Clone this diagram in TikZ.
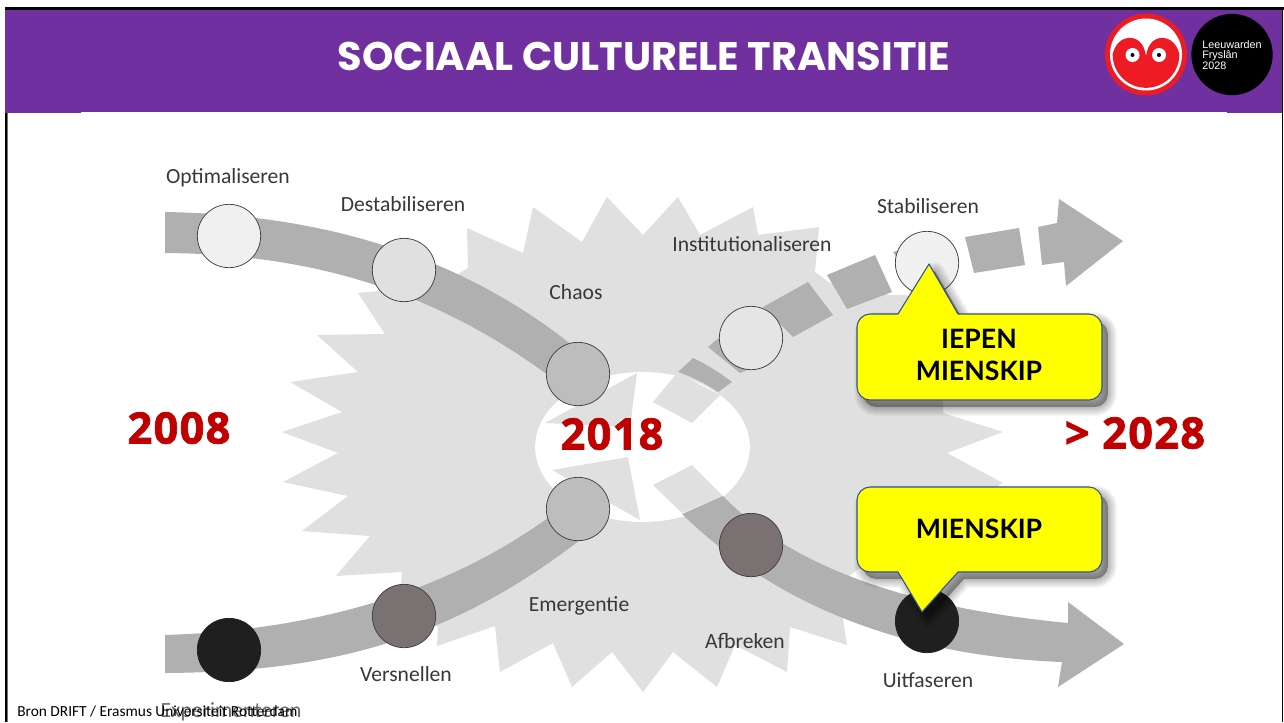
\documentclass[tikz,border=0pt]{standalone}
\usepackage{fontspec}
\setmainfont{Carlito}
\newfontfamily\titlefont{Poppins}
\newfontfamily\callfont{Lato}
\newfontfamily\yearfont[BoldFeatures={FakeBold=1.6,LetterSpace=3}]{Open Sans}
\newfontfamily\logofont{Liberation Sans}
\usetikzlibrary{calc,shapes.geometric}
\definecolor{hdr}{HTML}{7030A0}
\definecolor{burst}{HTML}{E0E0E0}
\definecolor{bandc}{HTML}{B0B0B0}
\definecolor{yearred}{HTML}{C00000}
\definecolor{logored}{HTML}{ED1C24}
\definecolor{callb}{HTML}{2F528F}
\definecolor{callfill}{HTML}{FFFF00}
\definecolor{midst}{HTML}{7A7272}
\tikzset{
  x=0.75pt,y=-0.75pt,
  stage/.style={circle,draw=black!75,line width=0.55pt,minimum size=47.5pt,inner sep=0pt},
  phase/.style={text=black!78,font=\fontsize{16.2pt}{18pt}\selectfont,inner sep=0pt},
  yearlab/.style={text=yearred,font=\fontsize{32.5pt}{36pt}\yearfont\bfseries,inner sep=0pt},
  calltext/.style={text=black,font=\fontsize{20pt}{24pt}\callfont\bfseries,inner sep=0pt,align=center},
  band/.style={fill=bandc},
  pale/.style={fill=burst},
  callshape/.style={fill=callfill,draw=callb,line width=0.8pt,line join=round},
}
\newcommand{\calloutup}{(870,314) -- (898,314) -- (929,264) -- (958,314) -- (1089,314) .. controls (1096,314) and (1102,320) .. (1102,327) -- (1102,387) .. controls (1102,394) and (1096,400) .. (1089,400) -- (870,400) .. controls (863,400) and (857,394) .. (857,387) -- (857,327) .. controls (857,320) and (863,314) .. (870,314) -- cycle}
\newcommand{\calloutdown}{(870,487) -- (1089,487) .. controls (1096,487) and (1102,493) .. (1102,500) -- (1102,559) .. controls (1102,566) and (1096,572) .. (1089,572) -- (958,572) -- (922,612) -- (898,572) -- (870,572) .. controls (863,572) and (857,566) .. (857,559) -- (857,500) .. controls (857,493) and (863,487) .. (870,487) -- cycle}
\begin{document}
\begin{tikzpicture}
\useasboundingbox (0,0) rectangle (1284,722);
\fill[white] (0,0) rectangle (1284,722);
% frame
\fill[black!55] (7,9) rectangle (8,722);
\fill[black] (4.5,7) rectangle (7,722);
\fill[black] (4.5,7) rectangle (1284,9.5);
\fill[black] (1281.8,7) rectangle (1283,722);
% header
\fill[hdr] (4.5,9.5) rectangle (1282,112);
\fill[hdr] (4.5,112) rectangle (81,113);
\fill[hdr] (1227,112) rectangle (1282,113);
\node (title) at (644,56) [text=white,font=\fontsize{29.9pt}{32pt}\titlefont\bfseries,inner sep=0pt] {SOCIAAL CULTURELE TRANSITIE};
% logos
\node (owlring) at (1146,54.5) [circle,fill=logored,minimum size=61.5pt,inner sep=0pt] {};
\node (owlface) at (1146,54.5) [circle,fill=white,minimum size=54pt,inner sep=0pt] {};
\begin{scope}
\clip (1146,54.5) circle[radius=25pt];
\fill[logored] (1146,56) .. controls (1144,42) and (1136,37) .. (1128,38) .. controls (1118,39) and (1112,50) .. (1112,60) -- (1112,95) -- (1180,95) -- (1180,60) .. controls (1180,50) and (1174,39) .. (1164,38) .. controls (1156,37) and (1148,42) .. (1146,56) -- cycle;
\end{scope}
\node (eyeL) at (1132.5,55) [circle,fill=white,minimum size=10.5pt,inner sep=0pt] {};
\node (eyeR) at (1159,55) [circle,fill=white,minimum size=10.5pt,inner sep=0pt] {};
\node (pupilL) at (1132.5,55) [circle,fill=black,minimum size=3pt,inner sep=0pt] {};
\node (pupilR) at (1159,55) [circle,fill=black,minimum size=3pt,inner sep=0pt] {};
\node (ltf) at (1232,54.5) [circle,fill=black,minimum size=61pt,inner sep=0pt] {};
\node (ltftext) at (1202,55) [anchor=west,text=white,align=left,font=\fontsize{8.1pt}{8pt}\logofont,inner sep=0pt] {Leeuwarden\\Frysl\^an\\2028};
% burst
\fill[burst] (467,228) -- (523,253) -- (533,207) -- (582,242) -- (607,197) -- (643,235) -- (678,197) -- (700,235) -- (753,207) -- (758,235) -- (819,227) -- (815,272) -- (830,283) -- (890,295) -- (907,295) -- (943,380) -- (943,413) -- (1003,432) -- (947,453) -- (1003,483) -- (900,540) -- (850,575) -- (840,600) -- (847,645) -- (790,627) -- (787,672) -- (735,645) -- (717,687) -- (673,652) -- (643,692) -- (612,652) -- (572,687) -- (553,643) -- (500,672) -- (495,626) -- (437,646) -- (438,627) -- (400,600) -- (402,572) -- (336,576) -- (370,536) -- (302,531) -- (348,496) -- (283,482) -- (338,453) -- (282,432) -- (342,412) -- (290,382) -- (358,372) -- (317,335) -- (385,334) -- (358,293) -- (440,285) -- (468,268) -- cycle;
\node (hub) at (642.5,447) [ellipse,fill=white,minimum width=161pt,minimum height=112.5pt,inner sep=0pt] {};
% pale inner arrows
\fill[pale] (637,373) -- (545,423) -- (630,427) -- cycle;
\fill[pale] (552,470) -- (628,457) -- (640,520) -- cycle;
\fill[pale] (677,373) -- (653,402) -- (692,423) -- (720,395) -- cycle;
\fill[pale] (653,485) -- (692,465) -- (723,496) -- (682,513) -- cycle;
% bands
\fill[band] (165,212) .. controls (300,214) and (450,245) .. (578,350) -- (552,378) .. controls (440,295) and (320,254) .. (165,253) -- cycle;
\fill[band] (165,635) .. controls (320,630) and (450,590) .. (552,515) -- (580,540) .. controls (450,640) and (330,672) .. (165,673) -- cycle;
\fill[band] (723,496) .. controls (780,555) and (880,605) .. (1068,623) -- (1068,602) -- (1124,644) -- (1058,687) -- (1062,662) .. controls (880,655) and (760,590) .. (682,514) -- cycle;
% dashes
\fill[band] (678,372) -- (693,358) .. controls (708,365) and (720,373) .. (732,382) -- (718,392) .. controls (705,383) and (692,377) .. (678,372) -- cycle;
\fill[band] (708,347) -- (720,337) -- (747,370) -- (740,373) -- cycle;
\fill[band] (763,307) -- (808,282) -- (833,315) -- (793,337) -- cycle;
\fill[band] (827,275) -- (875,255) -- (892,292) -- (847,309) -- cycle;
\fill[band] (893,252) -- (900,250) -- (900,262) -- cycle;
\fill[band] (965,237) -- (1019,228) -- (1025,265) -- (974,273) -- cycle;
\fill[band] (1038,227) -- (1057,223) -- (1059,199) -- (1123,241) -- (1066,286) -- (1064,262) -- (1042,265) -- cycle;
% stages
\node (s1) at (229,236) [stage,fill=black!6] {};
\node (s2) at (404,270) [stage,fill=black!12] {};
\node (s3) at (578,374) [stage,fill=black!26] {};
\node (s4) at (578,509) [stage,fill=black!26] {};
\node (s5) at (404,616) [stage,fill=midst] {};
\node (s6) at (229,650) [stage,fill=black!88,draw=black!88] {};
\node (s7) at (751,338) [stage,fill=black!10] {};
\node (s8) at (927,263) [stage,fill=black!6] {};
\node (s9) at (751,545) [stage,fill=midst] {};
\node (s10) at (927,621) [stage,fill=black!88,draw=black!88] {};
% phase labels
\node (l1) at (228,177.5) [phase] {Optimaliseren};
\node (l2) at (403,204) [phase] {Destabiliseren};
\node (l3) at (576,292) [phase] {Chaos};
\node (l4) at (752,244) [phase] {Institutionaliseren};
\node (l5) at (928,206) [phase] {Stabiliseren};
\node (l6) at (579,605.5) [phase] {Emergentie};
\node (l7) at (745,641) [phase] {Afbreken};
\node (l8) at (406,674) [phase] {Versnellen};
\node (l9) at (928,680) [phase] {Uitfaseren};
\node (l10) at (231,712) [phase,text=black!60] {Experimenteren};
% years
\node (y1) at (179,428) [yearlab] {2008};
\node (y2) at (612,434) [yearlab] {2018};
\node (y3) at (1135,433) [yearlab] {> 2028};
% callout shadows
\begin{scope}[shift={(6,7)}]
  \fill[black,opacity=.35] \calloutup;
  \fill[black,opacity=.35] \calloutdown;
  \foreach \w in {13,10.5,8,5.5,3}{
    \draw[black,opacity=.05,line width=\w pt,line join=round] \calloutup;
    \draw[black,opacity=.05,line width=\w pt,line join=round] \calloutdown;
  }
\end{scope}
\draw[callshape] \calloutup;
\draw[callshape] \calloutdown;
\node (c1) at (979,355) [calltext] {IEPEN\\MIENSKIP};
\node (c2) at (979,529) [calltext] {MIENSKIP};
% source
\node (src) at (17,711) [anchor=west,text=black,font=\fontsize{11.55pt}{13pt}\selectfont,inner sep=0pt] {Bron DRIFT / Erasmus Universiteit Rotterdam};
\end{tikzpicture}
\end{document}
